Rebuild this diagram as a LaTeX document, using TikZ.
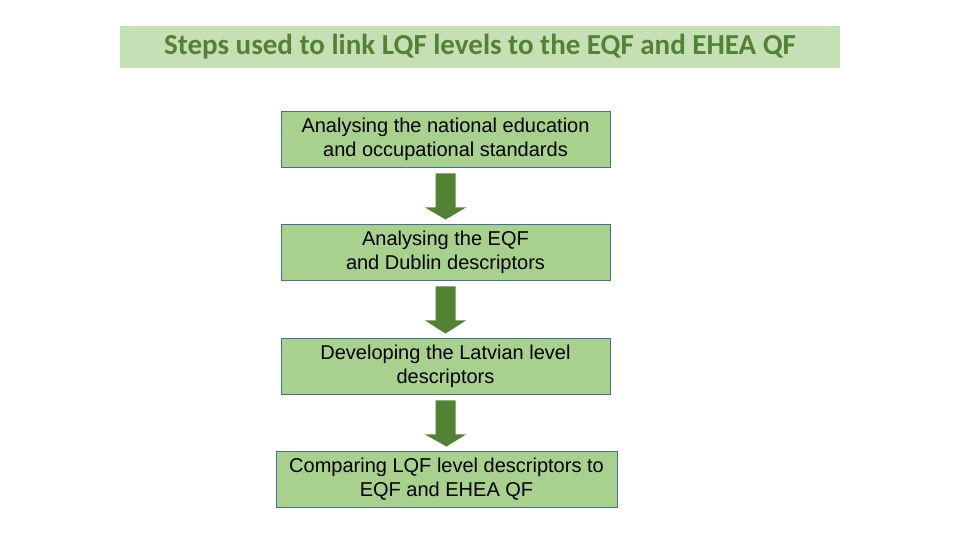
\documentclass[tikz,border=0pt]{standalone}
\usepackage{fontspec}
\setmainfont{Liberation Sans}
\newfontfamily\titlefont{Carlito}
\usetikzlibrary{calc}
\definecolor{titlefill}{HTML}{C5E0B4}
\definecolor{titletext}{HTML}{548235}
\definecolor{boxfill}{HTML}{A9D18E}
\definecolor{boxline}{HTML}{41719C}
\definecolor{arrowfill}{HTML}{548235}
\tikzset{
  stepbox/.style={draw=boxline, line width=0.9pt, fill=boxfill, minimum height=56pt,
    align=center, font=\fontsize{20}{24}\selectfont, inner sep=0pt},
  blockarrow/.style={fill=arrowfill, draw=none}
}
\newcommand{\blockarr}[2]{%
  \fill[blockarrow] ($(#1.south)+(-10,6)$) -- ($(#1.south)+(10,6)$) -- ($(#1.south)+(10,40)$)
    -- ($(#1.south)+(20.5,40)$) -- ($(#2.north)+(0,-4)$) -- ($(#1.south)+(-20.5,40)$)
    -- ($(#1.south)+(-10,40)$) -- cycle;}
\begin{document}
\begin{tikzpicture}[x=1pt,y=-1pt]
\useasboundingbox[fill=white] (0,0) rectangle (960,540);
\node[fill=titlefill, minimum width=720pt, minimum height=42pt, inner sep=0pt,
  text=titletext, font=\titlefont\bfseries\fontsize{29}{32}\selectfont] (title) at (480,47)
  {Steps used to link LQF levels to the EQF and EHEA QF};
\node[stepbox, minimum width=329pt] (b1) at (445.5,139) {Analysing the national education\\and occupational standards};
\node[stepbox, minimum width=329pt] (b2) at (445.5,252) {Analysing the EQF\\and Dublin descriptors};
\node[stepbox, minimum width=329pt] (b3) at (445.5,366) {Developing the Latvian level\\descriptors};
\node[stepbox, minimum width=341pt] (b4) at (446.5,479) {Comparing LQF level descriptors to\\EQF and EHEA QF};
\blockarr{b1}{b2}
\blockarr{b2}{b3}
\blockarr{b3}{b4}
\end{tikzpicture}
\end{document}
